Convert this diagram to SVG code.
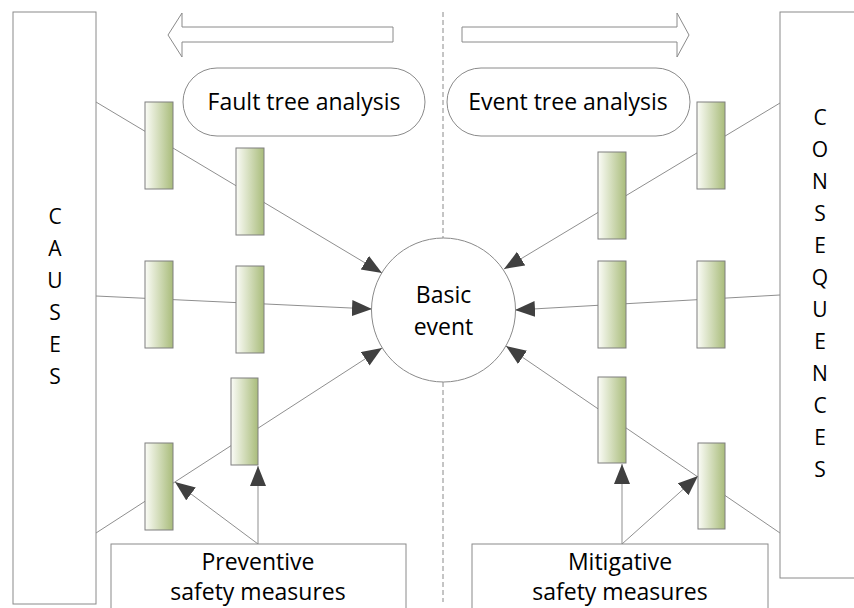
<svg xmlns="http://www.w3.org/2000/svg" width="854" height="608" viewBox="0 0 854 608">
<defs>
<linearGradient id="bar" x1="0" y1="0" x2="1" y2="0">
<stop offset="0" stop-color="#fbfcf7"/>
<stop offset="1" stop-color="#a9bc7b"/>
</linearGradient>
<marker id="ah" markerUnits="userSpaceOnUse" markerWidth="22" markerHeight="18" refX="20" refY="8" orient="auto">
<path d="M0,0 L20,8 L0,16 z" fill="#404040"/>
</marker>
<style>
.box{fill:#fff;stroke:#8a8a8a;stroke-width:1}
.bar{fill:url(#bar);stroke:#7f7f7f;stroke-width:1}
.arr{fill:none;stroke:#8f8f8f;stroke-width:1;marker-end:url(#ah)}
.dash{fill:none;stroke:#8a8a8a;stroke-width:1;stroke-dasharray:5 3}
.t{font-family:"Open Sans","Liberation Sans",sans-serif;font-size:23px;fill:#000;text-anchor:middle}
.l{font-family:"Open Sans","Liberation Sans",sans-serif;font-size:21px;fill:#000;text-anchor:middle}
</style>
</defs>
<rect width="854" height="608" fill="#fff"/>

<g id="divider">
<line class="dash" x1="443" y1="12" x2="443" y2="238"/>
<line class="dash" x1="443" y1="382" x2="443" y2="602"/>
</g>

<g id="causes">
<rect class="box" x="13" y="12" width="83" height="592"/>
<text class="l" x="55" y="224">C</text>
<text class="l" x="55" y="256">A</text>
<text class="l" x="55" y="288">U</text>
<text class="l" x="55" y="320">S</text>
<text class="l" x="55" y="352">E</text>
<text class="l" x="55" y="384">S</text>
</g>

<g id="consequences">
<rect class="box" x="780" y="12" width="90" height="566"/>
<text class="l" x="820" y="125">C</text>
<text class="l" x="820" y="157">O</text>
<text class="l" x="820" y="189">N</text>
<text class="l" x="820" y="221">S</text>
<text class="l" x="820" y="253">E</text>
<text class="l" x="820" y="285">Q</text>
<text class="l" x="820" y="317">U</text>
<text class="l" x="820" y="349">E</text>
<text class="l" x="820" y="381">N</text>
<text class="l" x="820" y="413">C</text>
<text class="l" x="820" y="445">E</text>
<text class="l" x="820" y="477">S</text>
</g>

<g id="fta-arrow">
<polygon class="box" points="393,27 182,27 182,13 168,35 182,57 182,42 393,42"/>
</g>
<g id="eta-arrow">
<polygon class="box" points="462,27 677,27 677,13 689,35 677,57 677,42 462,42"/>
</g>

<g id="fta">
<rect class="box" x="183" y="68" width="242" height="68" rx="34"/>
<text class="t" x="304" y="110">Fault tree analysis</text>
</g>
<g id="eta">
<rect class="box" x="447" y="68" width="243" height="68" rx="34"/>
<text class="t" x="568" y="110">Event tree analysis</text>
</g>

<g id="connectors">
<line class="arr" x1="96" y1="102" x2="382" y2="273"/>
<line class="arr" x1="96" y1="296" x2="372" y2="309"/>
<line class="arr" x1="96" y1="533" x2="382" y2="348"/>
<line class="arr" x1="780" y1="103" x2="504" y2="269"/>
<line class="arr" x1="780" y1="295" x2="515" y2="310"/>
<line class="arr" x1="780" y1="533" x2="506" y2="346"/>
<line class="arr" x1="258" y1="544" x2="258" y2="466"/>
<line class="arr" x1="258" y1="544" x2="175" y2="482"/>
<line class="arr" x1="622" y1="544" x2="622" y2="464"/>
<line class="arr" x1="622" y1="544" x2="698" y2="476"/>
</g>

<g id="basic-event">
<circle class="box" cx="443.5" cy="310" r="72"/>
<text class="t" x="443.5" y="303">Basic</text>
<text class="t" x="443.5" y="335">event</text>
</g>

<g id="barrier-l1a"><rect class="bar" x="145" y="102" width="28" height="87"/></g>
<g id="barrier-l1b"><rect class="bar" x="236" y="148" width="28" height="87"/></g>
<g id="barrier-l2a"><rect class="bar" x="145" y="261" width="28" height="87"/></g>
<g id="barrier-l2b"><rect class="bar" x="236" y="266" width="28" height="87"/></g>
<g id="barrier-l3a"><rect class="bar" x="145" y="443" width="28" height="87"/></g>
<g id="barrier-l3b"><rect class="bar" x="231" y="378" width="27" height="87"/></g>
<g id="barrier-r1a"><rect class="bar" x="697" y="102" width="28" height="87"/></g>
<g id="barrier-r1b"><rect class="bar" x="598" y="152" width="28" height="87"/></g>
<g id="barrier-r2a"><rect class="bar" x="598" y="261" width="28" height="87"/></g>
<g id="barrier-r2b"><rect class="bar" x="697" y="261" width="28" height="87"/></g>
<g id="barrier-r3a"><rect class="bar" x="598" y="377" width="28" height="86"/></g>
<g id="barrier-r3b"><rect class="bar" x="698" y="443" width="27" height="86"/></g>

<g id="preventive">
<rect class="box" x="111" y="544" width="295" height="80"/>
<text class="t" x="258" y="570">Preventive</text>
<text class="t" x="258" y="600">safety measures</text>
</g>
<g id="mitigative">
<rect class="box" x="472" y="544" width="296" height="80"/>
<text class="t" x="620" y="570">Mitigative</text>
<text class="t" x="620" y="600">safety measures</text>
</g>
</svg>
